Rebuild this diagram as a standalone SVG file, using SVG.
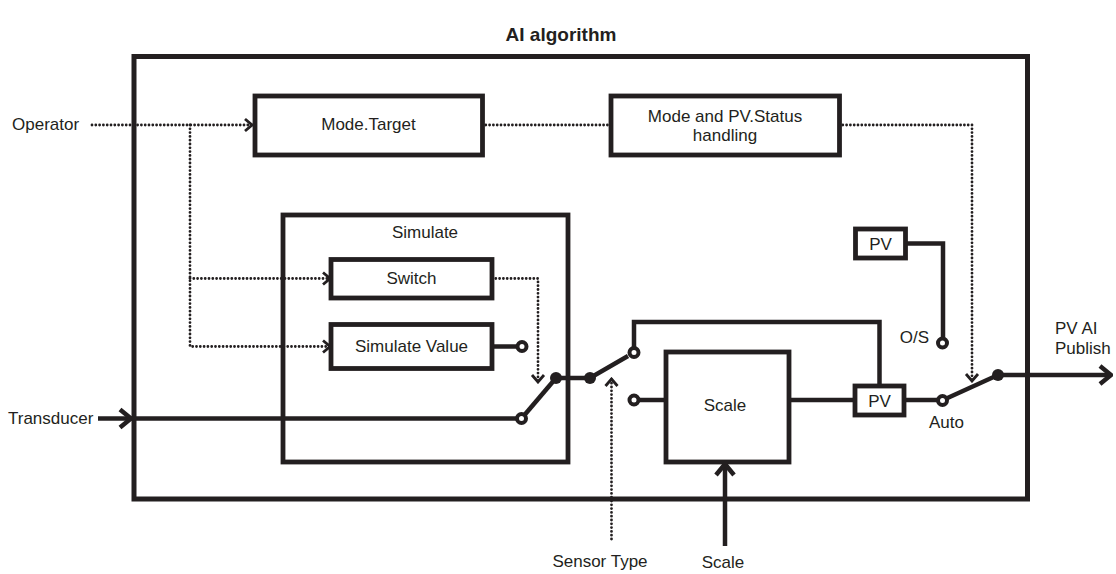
<svg xmlns="http://www.w3.org/2000/svg" width="1116" height="574" viewBox="0 0 1116 574">
<style>
text{font-family:"Liberation Sans",Arial,sans-serif;font-size:17px;fill:#231f20}
.title{font-weight:bold;font-size:19px}
.box{fill:#fff;stroke:#231f20;stroke-width:4.8}
.solid{fill:none;stroke:#231f20;stroke-width:4.5;stroke-linejoin:miter}
.dot{fill:none;stroke:#231f20;stroke-width:2.8;stroke-dasharray:0 3.8;stroke-linecap:round}
.open{fill:#fff;stroke:#231f20;stroke-width:4}
.fill{fill:#231f20}
</style>
<defs>
<marker id="da" markerUnits="userSpaceOnUse" viewBox="-10 -8 12 16" markerWidth="12" markerHeight="16" refX="0" refY="0" orient="auto">
<path d="M-7,-6 L0,0 L-7,6" fill="none" stroke="#231f20" stroke-width="2.8"/>
</marker>
<marker id="sa" markerUnits="userSpaceOnUse" viewBox="-16 -12 18 24" markerWidth="18" markerHeight="24" refX="0" refY="0" orient="auto">
<path d="M-11,-9 L0,0 L-11,9" fill="none" stroke="#231f20" stroke-width="4.5"/>
</marker>
</defs>
<rect width="1116" height="574" fill="#fff"/>
<text class="title" x="561" y="41" text-anchor="middle">AI algorithm</text>
<g id="outer"><rect class="box" x="134" y="56.5" width="893.5" height="442.5" style="fill:none;stroke-width:5"/></g>
<g id="simulate"><rect class="box" x="283" y="215" width="285" height="247" style="fill:none"/><text x="425" y="238" text-anchor="middle">Simulate</text></g>
<g id="connectors">
<path class="dot" d="M92,125 H252" marker-end="url(#da)"/>
<path class="dot" d="M190,125 V346.5 H330" marker-end="url(#da)"/>
<path class="dot" d="M190,278.5 H330" marker-end="url(#da)"/>
<path class="dot" d="M482,125 H611"/>
<path class="dot" d="M839,125 H972 V381" marker-end="url(#da)"/>
<path class="dot" d="M492,278.5 H538 V382" marker-end="url(#da)"/>
<path class="dot" d="M611.5,539 V379" marker-end="url(#da)"/>
<path class="solid" d="M98,418.5 H131" marker-end="url(#sa)"/>
<path class="solid" d="M131,418.5 H517"/>
<path class="solid" d="M521.5,418.5 L556,378"/>
<path class="solid" d="M556,378 H590 L628,356"/>
<path class="solid" d="M492,346.5 H518"/>
<path class="solid" d="M634,347 V322 H879.5 V386"/>
<path class="solid" d="M634,400 H666"/>
<path class="solid" d="M789,400 H855"/>
<path class="solid" d="M904,400 H938"/>
<path class="solid" d="M942,400.5 L998,375"/>
<path class="solid" d="M998,375 H1111" marker-end="url(#sa)"/>
<path class="solid" d="M905,243.5 H943 V339"/>
<path class="solid" d="M725,546 V464" marker-end="url(#sa)"/>
</g>
<g id="switch"><rect class="box" x="331" y="259.5" width="161" height="38.5"/><text x="411.5" y="284" text-anchor="middle">Switch</text></g>
<g id="simvalue"><rect class="box" x="331" y="324.5" width="161" height="44"/><text x="411.5" y="352" text-anchor="middle">Simulate Value</text></g>
<g id="modetarget"><rect class="box" x="255" y="96" width="227.5" height="59"/><text x="368.5" y="130" text-anchor="middle">Mode.Target</text></g>
<g id="modestatus"><rect class="box" x="611" y="96" width="228.5" height="59"/><text x="725" y="122" text-anchor="middle">Mode and PV.Status</text><text x="725" y="141" text-anchor="middle">handling</text></g>
<g id="scale"><rect class="box" x="666" y="352" width="123" height="110"/><text x="725" y="411" text-anchor="middle">Scale</text></g>
<g id="pv1"><rect class="box" x="855.5" y="229" width="50" height="29"/><text x="880.5" y="249.5" text-anchor="middle">PV</text></g>
<g id="pv2"><rect class="box" x="855" y="386" width="49" height="29"/><text x="879.5" y="406.5" text-anchor="middle">PV</text></g>
<g id="contacts">
<circle class="open" cx="521.5" cy="418.5" r="4.5"/>
<circle class="open" cx="522" cy="346.5" r="4.5"/>
<circle class="fill" cx="556" cy="378" r="6"/>
<circle class="fill" cx="590" cy="378" r="6"/>
<circle class="open" cx="634" cy="352.5" r="4.5"/>
<circle class="open" cx="634" cy="400" r="4.5"/>
<circle class="open" cx="942.5" cy="343" r="4.5"/>
<circle class="open" cx="942.5" cy="400.5" r="4.5"/>
<circle class="fill" cx="998" cy="375" r="6"/>
</g>
<g id="labels">
<text x="12" y="130">Operator</text>
<text x="8" y="424">Transducer</text>
<text x="929" y="343" text-anchor="end">O/S</text>
<text x="929" y="428">Auto</text>
<text x="1055" y="334">PV AI</text>
<text x="1055" y="354">Publish</text>
<text x="600" y="567" text-anchor="middle">Sensor Type</text>
<text x="723" y="568" text-anchor="middle">Scale</text>
</g>
</svg>
